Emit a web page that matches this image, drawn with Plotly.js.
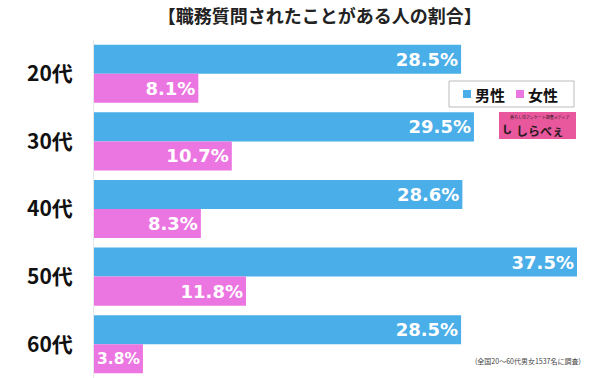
<!DOCTYPE html>
<html><head><meta charset="utf-8">
<script src="https://cdn.plot.ly/plotly-3.0.1.min.js"></script>
<style>html,body{margin:0;padding:0;background:#fff}#c{width:600px;height:378px}</style>
</head><body><div id="c"></div>
<script>
var categories = ["20代","30代","40代","50代","60代"];
var male = [28.5, 29.5, 28.6, 37.5, 28.5];
var female = [8.1, 10.7, 8.3, 11.8, 3.8];
var seriesNames = ["男性","女性"];
var colors = ["#4aaee8","#ec76e1"];
var fontJP = "'Noto Sans CJK JP', 'Noto Sans', sans-serif";
function lbl(a){return a.map(function(v){return v.toFixed(1)+"%";});}
var common = {type:"bar", orientation:"h", y:categories, textposition:"inside", insidetextanchor:"end",
  constraintext:"inside", cliponaxis:false, textfont:{family:"'DejaVu Sans', sans-serif", size:18, color:"#ffffff", weight:"bold"}, hoverinfo:"none"};
var t1 = Object.assign({}, common, {name:seriesNames[0], x:male, text:lbl(male), marker:{color:colors[0]}});
var t2 = Object.assign({}, common, {name:seriesNames[1], x:female, text:lbl(female), marker:{color:colors[1]}});
function py(px){return (378-px)/338;}
function pxx(px){return (px-94)/483;}
var shapes = [
  {type:"rect", xref:"paper", yref:"paper", x0:pxx(449), x1:pxx(574), y0:py(107), y1:py(81),
    fillcolor:"#fff", line:{color:"#bbbbbb", width:1}},
  {type:"rect", xref:"paper", yref:"paper", x0:pxx(463), x1:pxx(471), y0:py(98), y1:py(90),
    fillcolor:colors[0], line:{width:0}},
  {type:"rect", xref:"paper", yref:"paper", x0:pxx(516), x1:pxx(524), y0:py(98), y1:py(90),
    fillcolor:colors[1], line:{width:0}},
  {type:"rect", xref:"paper", yref:"paper", x0:pxx(499), x1:pxx(576), y0:py(139), y1:py(112),
    fillcolor:"#e9589c", line:{color:"#e9589c", width:0}}
];
var layout = {
  width:600, height:378, margin:{l:94, r:23, t:40, b:0},
  paper_bgcolor:"#fff", plot_bgcolor:"#fff",
  barmode:"group", bargap:0.14, bargroupgap:0,
  title:{text:"【職務質問されたことがある人の割合】", x:0.533, xanchor:"center", y:0.955, yanchor:"middle",
    font:{family:fontJP, size:18, color:"#222", weight:"bold"}},
  xaxis:{range:[0,37.5], visible:false, fixedrange:true},
  yaxis:{autorange:"reversed", showgrid:false, zeroline:false, showline:true, linecolor:"#e6e6e6", linewidth:1,
    ticks:"", ticklabelstandoff:16, tickfont:{family:fontJP, size:21, color:"#111", weight:"bold"}},
  showlegend:false,
  shapes:shapes,
  annotations:[
    {xref:"paper", yref:"paper", x:pxx(473), y:py(94), text:"<b>"+seriesNames[0]+"</b>", showarrow:false,
      font:{family:fontJP, size:15, color:"#111"}, xanchor:"left", yanchor:"middle"},
    {xref:"paper", yref:"paper", x:pxx(526), y:py(94), text:"<b>"+seriesNames[1]+"</b>", showarrow:false,
      font:{family:fontJP, size:15, color:"#111"}, xanchor:"left", yanchor:"middle"},
    {xref:"paper", yref:"paper", x:pxx(540), y:py(130), text:"<b>しらべぇ</b>", showarrow:false,
      font:{family:fontJP, size:12, color:"#2a1a22"}, xanchor:"center", yanchor:"middle"},
    {xref:"paper", yref:"paper", x:pxx(540), y:py(117), text:"暮らしのアンケート調査メディア", showarrow:false,
      font:{family:fontJP, size:4, color:"#2a1a22"}, xanchor:"center", yanchor:"middle"},
    {xref:"paper", yref:"paper", x:pxx(507), y:py(128), text:"<b>ᒐ</b>", showarrow:false,
      font:{family:fontJP, size:13, color:"#2a1a22"}, xanchor:"center", yanchor:"middle"},
    {xref:"paper", yref:"paper", x:pxx(583), y:py(361), text:"(全国20～60代男女1537名に調査)", showarrow:false,
      font:{family:fontJP, size:7, color:"#444"}, xanchor:"right", yanchor:"middle"}
  ]
};
Plotly.newPlot("c", [t1,t2], layout, {staticPlot:true, displayModeBar:false});
</script></body></html>
